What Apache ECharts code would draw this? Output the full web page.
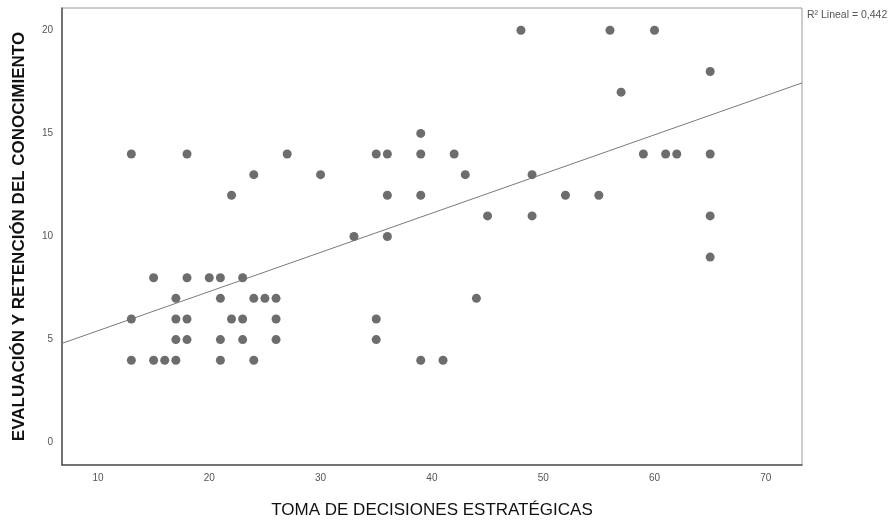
<!DOCTYPE html>
<html>
<head>
<meta charset="utf-8">
<script src="https://cdn.jsdelivr.net/npm/echarts@6/dist/echarts.min.js"></script>
<style>
  html, body { margin: 0; padding: 0; background: #ffffff; }
  #chart { width: 893px; height: 520px; }
</style>
</head>
<body>
<div id="chart"></div>
<script>
// ---- data ----
const decisionesX = [
  13, 18, 27, 24, 30, 22,
  15, 18, 20, 21, 23,
  17, 21, 24, 25, 26,
  13, 17, 18, 22, 23, 26,
  17, 18, 21, 23, 26,
  13, 15, 16, 17, 21, 24,
  48, 39, 35, 36, 39, 42, 43, 49, 36, 39, 45, 49, 33, 36, 44, 35, 35, 39, 41,
  56, 60, 65, 57, 59, 61, 62, 65, 52, 55, 65, 65
];
const evaluacionY = [
  14, 14, 14, 13, 13, 12,
  8, 8, 8, 8, 8,
  7, 7, 7, 7, 7,
  6, 6, 6, 6, 6, 6,
  5, 5, 5, 5, 5,
  4, 4, 4, 4, 4, 4,
  20, 15, 14, 14, 14, 14, 13, 13, 12, 12, 11, 11, 10, 10, 7, 6, 5, 4, 4,
  20, 20, 18, 17, 14, 14, 14, 14, 12, 12, 11, 9
];
const xTicks = [10, 20, 30, 40, 50, 60, 70];
const yTicks = [0, 5, 10, 15, 20];
const xRange = [6.77, 73.25];
const yRange = [-1.08, 21.08];
// linear fit coefficients as shown in the reference (R² Lineal = 0,442)
const fitIntercept = 3.53;
const fitSlope = 0.19;
const r2Label = 'R² Lineal = 0,442';
const xName = 'TOMA DE DECISIONES ESTRATÉGICAS';
const yName = 'EVALUACIÓN Y RETENCIÓN DEL CONOCIMIENTO';

const points = decisionesX.map((x, i) => [x, evaluacionY[i]]);
const fitLine = xRange.map(x => [x, fitIntercept + fitSlope * x]);

const chart = echarts.init(document.getElementById('chart'), null, { renderer: 'canvas' });
chart.setOption({
  animation: false,
  backgroundColor: '#ffffff',
  textStyle: { fontFamily: 'Liberation Sans, Arial, sans-serif' },
  grid: {
    left: 62, right: 91, top: 8, bottom: 55,
    containLabel: false,
    outerBoundsMode: 'none',
    show: true, borderColor: '#9a9a9a', borderWidth: 1
  },
  xAxis: {
    type: 'value',
    min: xRange[0], max: xRange[1],
    name: xName,
    nameLocation: 'middle',
    nameGap: 37,
    nameTextStyle: { fontSize: 17, color: '#111', fontFamily: 'Liberation Sans, Arial, sans-serif' },
    splitLine: { show: false },
    axisLine: { show: true, onZero: false, lineStyle: { color: '#555', width: 1.5 } },
    axisTick: { show: false },
    axisLabel: { customValues: xTicks, fontSize: 10, color: '#555', margin: 8 }
  },
  yAxis: {
    type: 'value',
    min: yRange[0], max: yRange[1],
    name: yName,
    nameLocation: 'middle',
    nameGap: 34,
    nameTextStyle: { fontSize: 17, fontWeight: 'bold', color: '#111', fontFamily: 'Liberation Sans, Arial, sans-serif' },
    splitLine: { show: false },
    axisLine: { show: true, onZero: false, lineStyle: { color: '#555', width: 1.5 } },
    axisTick: { show: false },
    axisLabel: { customValues: yTicks, fontSize: 10, color: '#555', margin: 9 }
  },
  series: [
    {
      type: 'line',
      data: fitLine,
      showSymbol: false,
      silent: true,
      lineStyle: { color: '#7a7a7a', width: 1 },
      z: 1
    },
    {
      type: 'scatter',
      data: points,
      symbol: 'circle',
      symbolSize: 9,
      itemStyle: { color: '#6d6d6d', opacity: 1 },
      z: 2
    }
  ],
  graphic: [
    {
      type: 'text',
      left: 807, top: 10,
      style: { text: r2Label, fontSize: 10.5, fill: '#555', fontFamily: 'Liberation Sans, Arial, sans-serif' }
    }
  ]
});
</script>
</body>
</html>
